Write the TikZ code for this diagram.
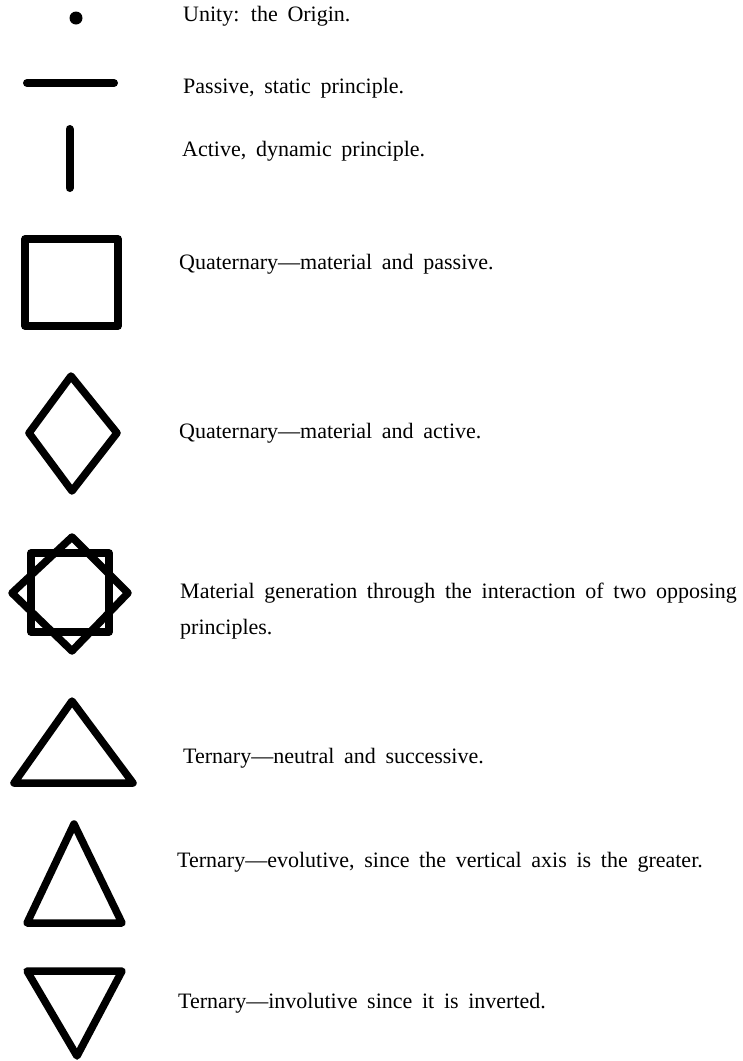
\documentclass[tikz,border=0pt]{standalone}
\usepackage{fontspec}
\setmainfont{Liberation Serif}
\newcommand{\lblfont}{\fontsize{22}{36}\selectfont\spaceskip 0.44em\relax}
\tikzset{
  sym/.style={line width=7.5pt, line join=round, line cap=round},
  bar/.style={line width=8pt, line cap=round},
  lbl/.style={anchor=base west, inner sep=0pt, font=\lblfont}
}
\begin{document}
\begin{tikzpicture}[x=1pt,y=-1pt]
\useasboundingbox (0,0) rectangle (743,1061);
% symbols
\fill (76,18) circle (6.5);
\draw[bar] (27,83) -- (114,83);
\draw[bar] (69.5,129) -- (69.5,188);
\draw[sym] (25,239) rectangle (118,326);
\draw[sym] (71,376) -- (117,433) -- (72,491) -- (29,433) -- cycle;
\draw[sym] (31,553) rectangle (109,632);
\draw[sym] (72,537) -- (128,593) -- (72,651) -- (12,593) -- cycle;
\draw[sym] (72,701) -- (133,783) -- (14,783) -- cycle;
\draw[sym] (74,824) -- (122,923) -- (27,923) -- cycle;
\draw[sym] (27,971) -- (122,971) -- (77,1056) -- cycle;
% labels
\node[lbl] (t1) at (183,21) {Unity: the Origin.};
\node[lbl] (t2) at (183,93) {Passive, static principle.};
\node[lbl] (t3) at (182,156) {Active, dynamic principle.};
\node[lbl] (t4) at (179,269) {Quaternary—material and passive.};
\node[lbl] (t5) at (179,438) {Quaternary—material and active.};
\node[lbl] (t6) at (180,598) {Material generation through the interaction of two opposing};
\node[lbl] (t6b) at (180,634) {principles.};
\node[lbl] (t7) at (183,763) {Ternary—neutral and successive.};
\node[lbl] (t8) at (177,867) {Ternary—evolutive, since the vertical axis is the greater.};
\node[lbl] (t9) at (178,1008) {Ternary—involutive since it is inverted.};
\end{tikzpicture}
\end{document}
